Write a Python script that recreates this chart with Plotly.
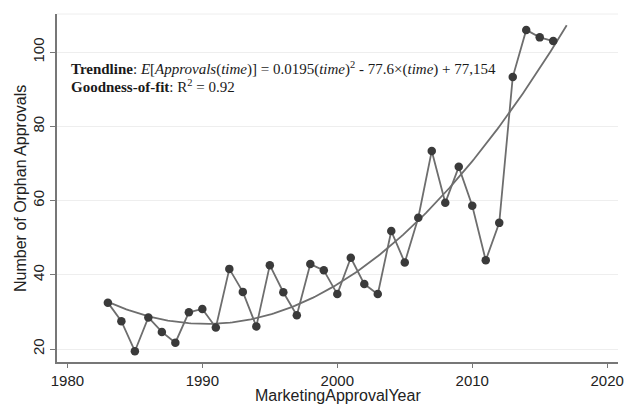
import numpy as np
import plotly.graph_objects as go

years = list(range(1983, 2017))
approvals = [32.5, 27.5, 19.4, 28.5, 24.6, 21.7, 29.9, 30.8, 25.8, 41.6,
             35.4, 26.1, 42.6, 35.3, 29.1, 42.9, 41.2, 34.8, 44.6, 37.5,
             34.8, 51.8, 43.3, 55.4, 73.4, 59.4, 69.1, 58.6, 43.9, 54.0,
             93.3, 106.0, 104.0, 103.0]
# trendline values
trend_years = [1983, 1986, 1991, 1994, 1997, 2000, 2004, 2006, 2009, 2013, 2016, 2017]
trend_values = [32.5, 28.6, 27.1, 28.6, 32.7, 37.1, 47.5, 55.2, 65.5, 84.0, 102.4, 107.3]
x_ticks = [1980, 1990, 2000, 2010, 2020]
y_ticks = [20, 40, 60, 80, 100]

# smooth quadratic through the read trendline values
coef = np.polyfit(np.array(trend_years) - 2000, trend_values, 2)
t_fit = np.linspace(trend_years[0], trend_years[-1], 200)
y_fit = np.polyval(coef, t_fit - 2000)

fig = go.Figure()
fig.add_trace(go.Scatter(x=t_fit, y=y_fit, mode="lines",
                         line=dict(color="#6e6e6e", width=1.8),
                         hoverinfo="skip", showlegend=False))
fig.add_trace(go.Scatter(x=years, y=approvals, mode="lines+markers",
                         line=dict(color="#6e6e6e", width=1.8),
                         marker=dict(color="#3a3a3a", size=8.5),
                         showlegend=False))

line1 = ("<b>Trendline</b>: <i>E</i>[<i>Approvals</i>(<i>time</i>)] = 0.0195(<i>time</i>)<sup>2</sup>"
         " - 77.6×(<i>time</i>) + 77,154")
line2 = "<b>Goodness-of-fit</b>: R<sup>2</sup> = 0.92"
for txt, yp in [(line1, 0.842), (line2, 0.793)]:
    fig.add_annotation(text=txt, xref="paper", yref="paper", x=0.021, y=yp,
                       xanchor="left", yanchor="middle", align="left", showarrow=False,
                       font=dict(family="Liberation Serif", size=15, color="#1a1a1a"))

# axis titles placed as annotations for precise positioning
fig.add_annotation(text="MarketingApprovalYear", xref="paper", yref="paper",
                   x=0.5, y=-0.097, xanchor="center", yanchor="middle", showarrow=False,
                   font=dict(size=16, color="#222222"))
fig.add_annotation(text="Number of Orphan Approvals", xref="paper", yref="paper",
                   x=-0.066, y=0.5, xanchor="center", yanchor="middle", showarrow=False,
                   textangle=-90, font=dict(size=16, color="#222222"))

fig.add_shape(type="line", xref="paper", yref="paper", x0=0, x1=1, y0=1, y1=1,
              line=dict(color="#eeeeee", width=1))

fig.update_layout(
    width=635, height=404,
    margin=dict(l=57, r=17, t=14, b=42),
    paper_bgcolor="white", plot_bgcolor="white",
    font=dict(family="Liberation Sans, Arial", size=15, color="#222222"),
    xaxis=dict(range=[1979.23, 2020.8], tickvals=x_ticks, showgrid=False,
               showline=True, linecolor="#777777", linewidth=1.5,
               ticks="outside", ticklen=4, tickcolor="#777777", zeroline=False,
               automargin=False),
    yaxis=dict(range=[16.5, 110.3], tickvals=y_ticks, showgrid=True,
               gridcolor="#eeeeee", gridwidth=1,
               showline=True, linecolor="#777777", linewidth=1.5,
               ticks="outside", ticklen=5, tickcolor="#777777", zeroline=False,
               tickangle=-90, automargin=False),
)

fig.write_html("out.html", config={"displayModeBar": False},
               post_script="document.body.style.margin='0';")
